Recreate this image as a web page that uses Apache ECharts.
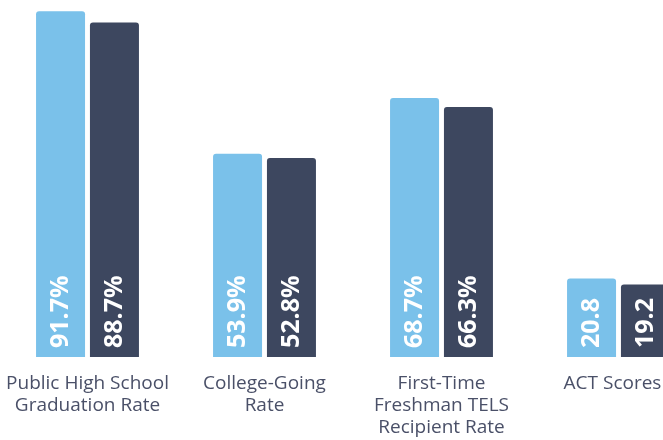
<!DOCTYPE html>
<html>
<head>
<meta charset="utf-8">
<script src="https://cdn.jsdelivr.net/npm/echarts@6/dist/echarts.min.js"></script>
<style>
  html, body { margin: 0; padding: 0; background: #fff; }
  #chart { width: 663px; height: 440px; }
</style>
</head>
<body>
<div id="chart"></div>
<script>
// categories and the two series
var categories = [
    'Public High School\nGraduation Rate',
    'College-Going\nRate',
    'First-Time\nFreshman TELS\nRecipient Rate',
    'ACT Scores'
];
var seriesA = [91.7, 53.9, 68.7, 20.8];
var seriesB = [88.7, 52.8, 66.3, 19.2];
// last category is a score, the others are percentages
var suffixes = ['%', '%', '%', ''];

var chart = echarts.init(document.getElementById('chart'));

function barLabel(){
    return {
        show: true,
        position: 'insideBottom',
        rotate: 90,
        align: 'left',
        verticalAlign: 'middle',
        distance: 9,
        color: '#fff',
        fontFamily: 'Open Sans',
        fontWeight: 'bold',
        fontSize: 25,
        formatter: function(p){
            return p.value.toFixed(1) + suffixes[p.dataIndex];
        }
    };
}

// last label sits against the right edge, nudge it left a little
var axisData = categories.map(function(c, i){
    if(i === categories.length - 1){
        return { value: c, textStyle: { padding: [0, 12, 0, 0] } };
    }
    return c;
});

var option = {
    animation: false,
    grid: {
        left: -1,
        width: 708,
        top: -20,
        bottom: 83,
        containLabel: false,
        outerBoundsMode: 'none'
    },
    xAxis: {
        type: 'category',
        data: axisData,
        axisLine: { show: false },
        axisTick: { show: false },
        axisLabel: {
            color: '#4a5068',
            fontFamily: 'Open Sans',
            fontSize: 19,
            lineHeight: 22,
            margin: 16,
            interval: 0
        }
    },
    yAxis: {
        type: 'value',
        min: 0,
        max: 100,
        show: false,
        splitLine: { show: false }
    },
    series: [
        {
            type: 'bar',
            data: seriesA,
            barWidth: 49,
            barGap: '10%',
            itemStyle: { color: '#7ac1ea', borderRadius: [3, 3, 0, 0] },
            label: barLabel()
        },
        {
            type: 'bar',
            data: seriesB,
            barWidth: 49,
            barGap: '10%',
            itemStyle: { color: '#3d475f', borderRadius: [3, 3, 0, 0] },
            label: barLabel()
        }
    ]
};

chart.setOption(option);
</script>
</body>
</html>
